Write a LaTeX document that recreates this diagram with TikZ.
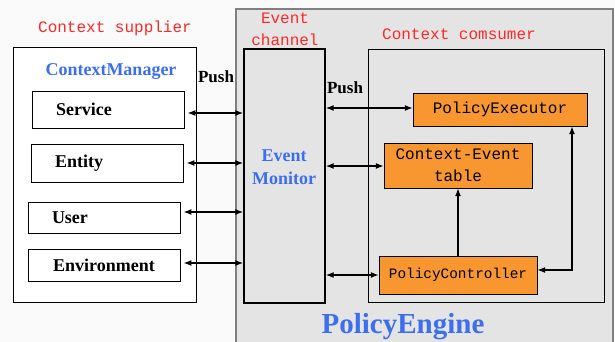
\documentclass[tikz,border=0pt]{standalone}
\usepackage{fontspec}
\setmainfont{Liberation Serif}
\newfontfamily\monofont{Liberation Mono}
\usepackage{tikz}
\usetikzlibrary{positioning, arrows.meta}
\usepackage{xcolor}

\definecolor{labelred}{RGB}{255,40,40}
\definecolor{labelblue}{RGB}{60,110,240}
\definecolor{boxorange}{RGB}{248,150,48}
\definecolor{enginegray}{RGB}{228,228,228}

\begin{document}
\begin{tikzpicture}[
    x=1pt, y=-1pt,
    item style/.style={draw, thick, fill=white, minimum width=152pt, text width=104pt,
      inner xsep=24pt, align=left, font=\fontsize{18}{20}\selectfont\bfseries},
    orange style/.style={draw, fill=boxorange, align=center, inner sep=0pt,
      font=\monofont\fontsize{16}{22}\selectfont},
    red label/.style={text=labelred, align=center, font=\monofont\fontsize{16}{22}\selectfont},
    blue label/.style={text=labelblue, align=center, font=\fontsize{18}{23}\selectfont\bfseries},
    push label/.style={font=\fontsize{17}{20}\selectfont\bfseries},
    link/.style={{Latex[length=8pt,width=6pt]}-{Latex[length=8pt,width=6pt]}, line width=1.4pt}
  ]
  \useasboundingbox (0,0) rectangle (615,342);
  \fill[white!98!black] (0,0) rectangle (615,342);

  % Engine and the big frames
  \draw[fill=enginegray, draw=gray, line width=1.2pt] (236,9) rectangle (613,360);
  \draw[thick, fill=white] (13,47) rectangle (196,302);
  \node[draw, line width=1.4pt, fill=enginegray, minimum width=81pt, minimum height=254pt] (monitor) at (284.5,176) {};
  \draw[thick] (368,49) rectangle (604,302);

  % Titles
  \node[red label] (supplier) at (115,28)   {Context supplier};
  \node[red label] (channel)  at (285,29)   {Event\\channel};
  \node[red label] (consumer) at (459,34)   {Context comsumer};
  \node[blue label] (manager) at (111,72)   {ContextManager};
  \node[blue label] (monlabel) at (284,167) {Event\\Monitor};
  \node[text=labelblue, font=\fontsize{29}{30}\selectfont\bfseries] (engine) at (403,327) {PolicyEngine};

  % Context supplier boxes
  \node[item style, minimum height=37pt] (service) at (108,109.5) {Service};
  \node[item style, minimum height=38pt] (entity)  at (107,163)   {Entity};
  \node[item style, minimum height=31pt] (user)    at (104,217.5) {User};
  \node[item style, minimum height=32pt, inner xsep=0pt, text width=152pt, align=center] (environment) at (104,265) {Environment};

  % Context consumer boxes
  \node[orange style, minimum width=174pt, minimum height=33pt] (executor)   at (500,109.5) {PolicyExecutor};
  \node[orange style, minimum width=148pt, minimum height=45pt] (table)      at (458,165.5) {Context-Event\\table};
  \node[orange style, minimum width=158pt, minimum height=38pt,
        font=\monofont\fontsize{14.4}{16}\selectfont] (controller) at (458,275) {PolicyController};

  \node[push label] (push1) at (216,77) {Push};
  \node[push label] (push2) at (345,88) {Push};

  % Supplier side links
  \draw[link, shorten <=3pt] ([yshift=-3.5pt]service.east) -- ([yshift=-3.5pt]service.east -| monitor.west);
  \draw[link, shorten <=3pt] (entity.east) -- (entity.east -| monitor.west);
  \draw[link, shorten <=3pt] ([yshift=5.5pt]user.east) -- ([yshift=5.5pt]user.east -| monitor.west);
  \draw[link, shorten <=3pt] ([yshift=2pt]environment.east) -- ([yshift=2pt]environment.east -| monitor.west);

  % Consumer side links
  \draw[link] ([yshift=1.5pt]executor.west -| monitor.east) -- ([yshift=1.5pt]executor.west);
  \draw[link] ([yshift=-0.5pt]table.west -| monitor.east) -- ([yshift=-0.5pt]table.west);
  \draw[link] (controller.west -| monitor.east) -- (controller.west);
  \draw[line width=1.4pt, -{Latex[length=8pt,width=6pt]}] (controller) -- (table);

  \coordinate (bend) at (572,270);
  \draw[link] (executor.south -| bend) -- (bend) -- (bend -| controller.east);

\end{tikzpicture}
\end{document}
